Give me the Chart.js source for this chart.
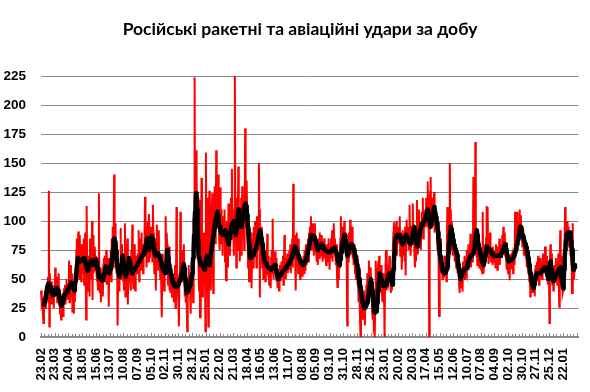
<!DOCTYPE html>
<html><head><meta charset="utf-8">
<script src="https://cdn.jsdelivr.net/npm/chart.js@4.4.1/dist/chart.umd.min.js"></script>
<style>html,body{margin:0;padding:0;background:#fff;}canvas{display:block;}</style>
</head><body>
<canvas id="c" width="590" height="392"></canvas>
<script>
const chartTitle = 'Російські ракетні та авіаційні удари за добу';
const tickLabels = ['23.02','23.03','20.04','18.05','15.06','13.07','10.08','07.09','05.10','02.11','30.11','28.12','25.01','22.02','21.03','18.04','16.05','13.06','11.07','08.08','05.09','03.10','31.10','28.11','26.12','23.01','20.02','20.03','17.04','15.05','12.06','10.07','07.08','04.09','02.10','30.10','27.11','25.12','22.01'];
const totalDays = 1096;
const startDay = Date.UTC(2023, 1, 23);
const categories = Array.from({length: totalDays}, (_, i) => {
  const d = new Date(startDay + i * 86400000);
  return String(d.getUTCDate()).padStart(2, '0') + '.' + String(d.getUTCMonth() + 1).padStart(2, '0');
});
// daily strikes (red)
const dailyStrikes = [
40,38,28,30,18,12,35,27,40,25,42,34,45,38,52,30,126,9,55,40,35,48,28,38,30,42,25,45,
38,60,35,45,52,30,48,40,55,28,33,20,25,15,30,22,38,18,35,42,30,45,28,38,50,33,42,35,
45,66,30,50,40,62,35,55,22,48,38,20,45,30,60,55,75,85,62,70,91,58,50,88,65,72,48,80,
60,72,55,85,45,68,90,58,15,113,62,48,40,55,70,35,85,60,75,50,100,32,88,55,62,70,78,58,
70,55,48,60,40,52,124,45,38,60,30,55,42,50,35,62,68,48,70,55,58,75,45,62,50,68,26,58,
60,52,75,48,85,70,95,60,88,140,72,98,65,80,55,70,10,45,58,40,62,50,94,55,80,65,72,48,
70,40,55,98,35,60,48,72,85,28,65,58,50,62,45,40,75,55,97,60,42,68,52,80,40,65,58,70,
55,72,60,92,48,70,65,85,58,90,62,78,55,80,75,88,121,70,95,60,85,100,72,65,106,90,68,80,
95,75,88,65,114,90,70,55,85,62,40,75,97,68,80,58,92,60,70,50,65,45,17,55,72,48,60,40,
50,65,104,60,90,80,70,45,55,78,40,52,38,60,48,35,42,55,30,45,38,62,25,40,112,35,50,42,
30,9,55,45,108,60,48,75,52,70,62,80,55,35,42,30,45,25,5,38,50,62,40,52,35,20,48,55,
45,60,30,70,85,224,95,120,161,140,105,75,120,60,40,118,17,70,50,137,55,35,80,45,90,62,70,5,
159,80,55,120,45,9,75,126,60,95,40,85,110,124,70,38,105,90,130,115,80,161,100,120,95,140,110,85,
75,129,90,110,80,100,70,104,85,95,110,65,88,49,100,75,92,60,115,80,105,70,95,120,85,145,90,100,
95,70,110,231,85,100,60,120,75,95,147,80,110,65,98,90,120,70,130,85,105,115,75,100,180,120,95,135,
110,85,60,75,48,65,80,55,90,42,70,85,60,95,65,78,100,70,85,60,104,90,80,75,150,110,34,95,
80,95,70,60,75,50,68,55,72,48,65,60,58,89,62,55,70,45,60,52,42,68,75,55,102,60,50,65,
60,74,55,68,48,52,42,45,58,40,50,62,55,48,65,52,60,70,45,58,88,55,62,50,68,58,72,55,
70,58,75,62,80,55,68,72,85,60,132,70,88,75,65,40,82,90,62,78,55,85,65,72,50,68,60,55,
65,52,60,70,55,75,58,68,80,62,75,70,85,65,90,78,95,82,104,88,75,98,80,92,70,85,98,78,
80,70,65,78,62,85,72,68,90,75,82,70,88,78,65,80,72,85,68,75,70,62,80,72,78,65,85,70,
58,75,68,85,70,92,65,80,72,98,75,85,68,62,80,55,43,70,50,65,60,75,85,104,78,95,90,82,
95,85,100,80,90,75,88,60,10,85,65,90,78,70,101,85,72,80,95,68,75,62,80,70,55,65,50,60,
70,45,55,30,60,40,25,0,35,45,18,30,15,28,40,20,10,35,25,45,30,55,40,38,66,50,45,60,
55,40,35,20,15,30,10,12,0,25,66,30,40,60,50,65,45,70,38,55,48,40,62,35,30,55,50,45,
0,45,60,75,40,55,50,48,62,58,70,52,45,38,55,40,60,75,90,99,85,80,95,88,100,70,92,85,
95,80,88,104,70,90,85,58,75,92,80,70,85,65,95,53,88,101,90,80,95,75,85,114,90,70,82,88,
95,100,115,85,90,70,60,75,65,80,118,72,95,88,110,90,85,100,75,95,108,90,120,85,105,95,98,110,
100,120,95,110,134,105,90,0,115,125,138,95,110,120,100,115,108,125,90,105,110,95,105,85,75,90,70,18,
75,60,85,55,70,65,50,62,58,51,70,60,55,65,48,75,112,58,80,90,85,150,95,110,75,100,88,70,
90,75,85,65,80,70,60,75,68,55,72,60,45,38,55,42,60,50,48,39,65,55,62,70,50,68,58,75,
55,70,62,80,58,75,65,89,60,72,78,65,70,138,85,75,80,168,95,70,85,62,75,68,80,60,72,65,
70,58,65,55,108,60,55,68,72,80,65,85,113,70,112,75,63,80,68,90,72,65,75,70,62,78,68,72,
65,75,60,80,68,72,58,78,70,65,85,62,75,70,80,68,88,72,95,82,78,90,70,75,65,58,72,60,
55,70,62,49,68,58,72,65,60,75,55,70,68,62,108,80,75,90,108,85,95,100,88,110,92,105,98,85,
90,78,95,80,70,88,75,82,68,72,60,78,65,55,70,48,60,35,52,45,40,55,38,48,42,50,35,58,
62,50,58,65,48,70,55,45,60,52,68,58,62,50,55,72,60,65,58,78,62,55,70,48,58,45,52,60,
12,65,80,70,58,72,45,55,40,50,62,48,58,68,52,60,45,55,72,48,26,65,92,60,70,50,42,38,
40,55,75,90,112,85,95,80,100,92,88,95,78,85,90,70,82,75,38,98,45,60,50,58,62
];
// 7-day moving average (black)
const movingAverage = [
null,null,null,null,null,null,28,30,32,33,35,38,41,44,45,46,46,45,44,43,42,40,39,37,36,36,37,37,
38,40,41,42,42,42,42,40,37,35,33,31,29,27,28,29,30,32,33,35,36,37,37,38,39,39,40,41,
42,43,44,45,46,47,46,46,45,44,42,41,40,44,48,52,56,60,64,68,67,67,66,66,65,65,66,66,
67,67,67,68,68,66,65,63,62,60,58,57,58,60,61,62,63,65,66,65,65,64,63,63,62,63,65,66,
67,65,62,60,57,55,52,51,51,50,50,49,49,49,51,52,54,55,57,59,61,60,59,58,58,57,56,55,
57,58,60,63,65,68,72,76,81,85,83,82,80,74,68,62,60,57,55,53,52,55,57,60,63,67,70,67,
63,62,60,57,55,52,55,57,60,63,65,68,66,64,62,60,58,57,55,56,57,57,58,59,59,60,61,61,
62,63,64,64,65,66,67,68,69,70,70,71,71,72,72,74,76,78,80,83,85,82,80,77,75,77,80,82,
84,85,87,85,82,80,77,75,72,70,70,70,70,71,71,72,72,70,69,67,66,64,62,60,59,58,57,57,
56,56,55,62,68,75,72,68,65,62,60,57,55,53,52,50,48,47,45,45,44,44,43,43,43,43,44,45,
46,47,48,49,50,52,53,55,57,59,61,63,59,54,50,46,42,38,39,39,40,41,43,44,45,47,50,52,
55,62,68,75,88,100,108,116,124,117,110,96,83,70,68,67,65,63,62,62,62,62,62,61,59,58,60,63,
65,68,70,68,67,65,63,62,65,69,72,75,78,81,84,87,90,93,97,100,102,103,105,107,108,104,99,95,
95,95,92,90,89,89,88,89,89,90,91,91,92,90,88,86,84,82,80,83,85,88,90,93,95,97,98,99,
99,100,98,95,91,88,92,96,100,105,110,107,105,102,100,97,95,97,100,102,106,110,111,112,114,115,113,110,
105,100,93,87,80,74,68,69,69,70,70,71,71,72,73,74,75,76,77,79,80,82,84,86,88,90,92,90,
88,85,83,80,77,73,70,68,65,64,63,63,62,61,61,60,60,59,59,59,59,58,58,59,60,60,61,61,
62,62,60,58,56,54,52,50,51,52,52,53,54,54,55,55,56,56,57,57,58,58,59,60,60,61,62,62,
63,64,64,65,66,67,68,69,70,72,73,75,76,78,77,76,75,74,72,71,70,69,68,67,66,65,64,64,
63,63,62,63,64,64,65,66,67,68,70,72,74,76,78,80,82,84,86,88,88,87,87,87,86,86,85,83,
82,80,78,77,75,76,76,77,78,79,79,80,79,79,78,77,76,76,75,75,75,74,74,74,74,73,73,73,
73,73,74,74,74,75,75,76,76,76,77,76,74,73,72,70,68,66,65,63,62,65,67,70,73,77,80,82,
84,86,88,85,83,80,77,73,70,72,73,75,76,77,79,80,80,79,79,78,77,76,75,73,70,68,66,64,
62,60,57,53,50,47,44,41,38,35,33,30,29,27,26,25,26,26,27,28,29,30,33,36,39,42,45,47,
50,47,43,40,35,31,26,22,22,21,21,22,24,29,35,40,45,50,55,53,52,50,48,47,45,45,44,44,
44,44,45,45,47,48,50,51,53,54,55,53,52,50,48,47,45,52,58,65,72,78,85,86,86,87,88,88,
88,88,88,87,86,85,84,83,81,80,81,82,84,85,86,87,88,87,86,85,84,83,82,81,81,80,81,82,
85,88,90,92,95,93,90,88,85,82,80,78,80,83,85,88,90,93,95,96,97,97,98,99,99,100,101,103,
104,105,107,108,110,107,105,102,100,97,95,97,100,102,105,107,110,112,110,107,105,103,100,98,95,90,85,80,
76,72,69,65,63,60,58,57,56,55,55,56,56,57,58,59,60,66,72,78,82,86,91,95,93,90,88,85,
83,80,79,77,76,75,73,72,70,67,63,60,57,55,52,50,52,53,55,56,56,57,58,58,59,59,59,60,
60,62,63,65,66,68,69,70,70,70,71,71,71,72,72,76,81,85,88,90,92,88,84,80,78,76,74,72,
70,68,66,65,64,63,62,65,67,70,72,74,76,78,78,77,77,76,76,75,74,73,73,72,71,71,70,70,
70,70,70,70,70,70,70,70,70,70,70,70,70,71,72,73,74,75,76,77,78,79,80,78,75,72,70,68,
67,65,65,65,66,66,66,66,67,67,68,68,70,71,73,74,76,78,80,82,84,86,88,90,93,95,93,92,
90,88,87,85,84,82,81,80,78,77,75,73,70,68,65,62,58,55,53,50,48,46,45,43,42,45,47,50,
52,53,55,55,55,55,55,55,55,55,56,56,57,57,58,58,59,59,60,60,59,58,56,55,53,52,50,54,
58,62,65,62,58,55,52,50,48,49,50,51,52,53,54,55,56,56,57,58,59,59,60,57,53,50,47,45,
42,50,58,67,75,80,84,88,89,89,90,90,90,90,90,86,83,79,75,69,64,58,59,60,62
];

const tickFont = 'Liberation Sans, Arimo, Arial, Helvetica, sans-serif';
const titlePlugin = {
  id: 'titleText',
  afterDraw(chart) {
    const ctx = chart.ctx;
    ctx.save();
    ctx.font = 'bold 17.5px Lato, "Noto Sans", sans-serif';
    ctx.fillStyle = '#000';
    ctx.textAlign = 'center';
    ctx.textBaseline = 'alphabetic';
    ctx.fillText(chartTitle, 300, 35);
    ctx.restore();
  }
};
const minorTicks = {
  id: 'minorTicks',
  beforeDatasetsDraw(chart) {
    const xs = chart.scales.x, ctx = chart.ctx, b = chart.chartArea.bottom;
    ctx.save();
    ctx.strokeStyle = '#8a8a8a';
    ctx.lineWidth = 1;
    ctx.beginPath();
    for (let i = 0; i < totalDays; i += 7) {
      const px = Math.round(xs.getPixelForValue(i)) + 0.5;
      ctx.moveTo(px, b);
      ctx.lineTo(px, b - (i % 28 === 0 ? 4 : 3));
    }
    ctx.stroke();
    ctx.restore();
  }
};

new Chart(document.getElementById('c'), {
  type: 'line',
  data: {
    labels: categories,
    datasets: [
      { label: 'Середнє', data: movingAverage, borderColor: '#000', borderWidth: 4.5, pointRadius: 0, borderJoinStyle: 'round', borderCapStyle: 'round', order: 0 },
      { label: 'Удари', data: dailyStrikes, borderColor: '#ff0000', borderWidth: 2, pointRadius: 0, order: 1 }
    ]
  },
  options: {
    responsive: false, animation: false, devicePixelRatio: 1,
    layout: { padding: { top: 76, left: 4, right: 8, bottom: 0 } },
    plugins: { legend: { display: false }, tooltip: { enabled: false }, title: { display: false } },
    scales: {
      x: {
        offset: false,
        grid: { display: false, drawTicks: false },
        border: { display: true, color: '#8a8a8a', width: 2 },
        afterFit: (s) => { s.height = 55; },
        ticks: {
          autoSkip: false, minRotation: 90, maxRotation: 90, padding: 11, color: '#000',
          font: { family: tickFont, size: 13, weight: 'bold' },
          callback: (v, i) => (i % 28 === 0 && i / 28 < tickLabels.length) ? tickLabels[i / 28] : null
        }
      },
      y: {
        min: 0, max: 225,
        border: { display: false },
        afterFit: (s) => { s.width = 37; },
        grid: { color: '#8a8a8a', lineWidth: 1, drawTicks: false },
        ticks: { stepSize: 25, padding: 15, color: '#000', font: { family: tickFont, size: 13.5, weight: 'bold' } }
      }
    }
  },
  plugins: [titlePlugin, minorTicks]
});
</script>
</body></html>
